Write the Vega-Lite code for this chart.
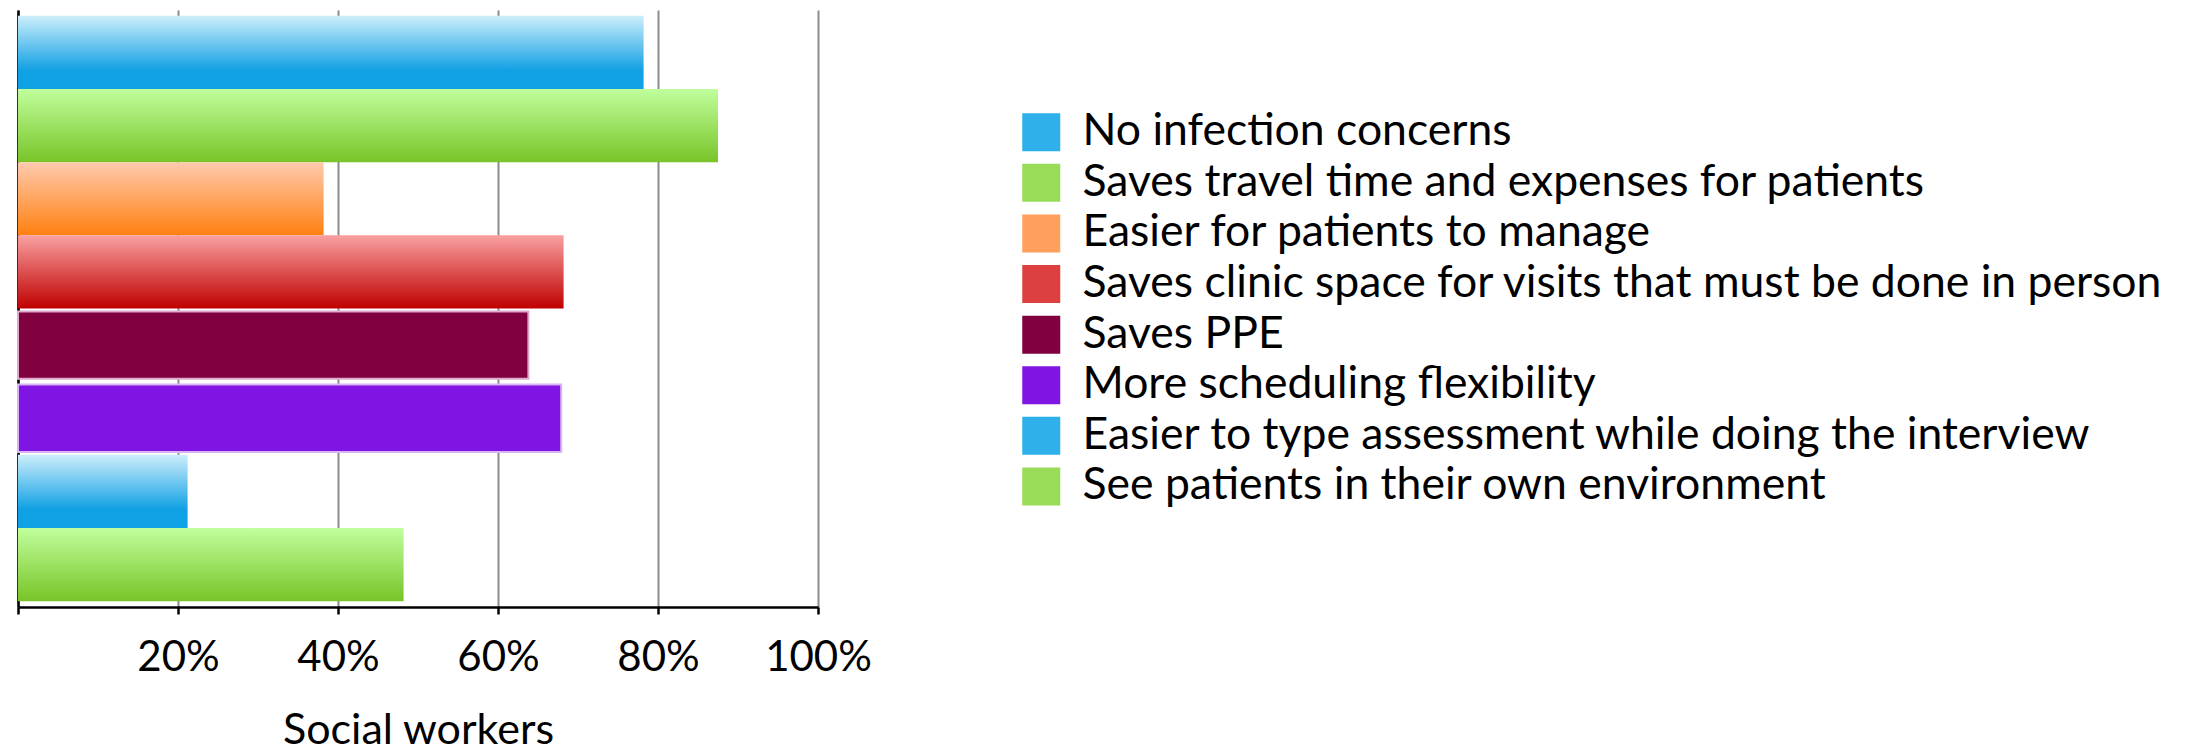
{
  "$schema": "https://vega.github.io/schema/vega-lite/v6.json",
  "width": 800,
  "height": 597,
  "autosize": "none",
  "padding": {"left": 18, "top": 10, "right": 1368, "bottom": 146},
  "background": "#ffffff",
  "config": {"view": {"stroke": null}, "font": "Lato"},
  "data": {
    "values": [
      {"reason": "No infection concerns", "share": 0.782},
      {"reason": "Saves travel time and expenses for patients", "share": 0.875},
      {"reason": "Easier for patients to manage", "share": 0.382},
      {"reason": "Saves clinic space for visits that must be done in person", "share": 0.682},
      {"reason": "Saves PPE", "share": 0.638},
      {"reason": "More scheduling flexibility", "share": 0.679},
      {"reason": "Easier to type assessment while doing the interview", "share": 0.212},
      {"reason": "See patients in their own environment", "share": 0.482}
    ]
  },
  "encoding": {
    "y": {
      "field": "reason",
      "type": "nominal",
      "sort": null,
      "scale": {
        "domain": [
          "No infection concerns",
          "Saves travel time and expenses for patients",
          "Easier for patients to manage",
          "Saves clinic space for visits that must be done in person",
          "Saves PPE",
          "More scheduling flexibility",
          "Easier to type assessment while doing the interview",
          "See patients in their own environment"
        ],
        "paddingInner": 0,
        "paddingOuter": 0.08
      },
      "axis": {"title": null, "labels": false, "ticks": false, "grid": false, "domainColor": "#000000", "domainWidth": 2.5}
    },
    "x": {
      "field": "share",
      "type": "quantitative",
      "scale": {"domain": [0, 1], "nice": false},
      "axis": {
        "values": [0, 0.2, 0.4, 0.6, 0.8, 1],
        "labelExpr": "datum.value == 0 ? '' : format(datum.value, '.0%')",
        "title": "Social workers",
        "grid": true,
        "gridColor": "#8c8c8c",
        "gridWidth": 2,
        "domainColor": "#000000",
        "domainWidth": 2.5,
        "tickColor": "#000000",
        "tickWidth": 2.5,
        "tickSize": 7,
        "labelFontSize": 42,
        "labelColor": "#000000",
        "labelPadding": 23,
        "labelFlush": false,
        "titleFontSize": 43,
        "titleFontWeight": "normal",
        "titleColor": "#000000",
        "titlePadding": 31
      }
    }
  },
  "layer": [
    {
      "transform": [{"filter": {"field": "reason", "oneOf": ["No infection concerns", "Easier to type assessment while doing the interview"]}}],
      "mark": {"type": "bar", "color": {"gradient": "linear", "x1": 0, "y1": 0, "x2": 0, "y2": 1, "stops": [{"offset": 0, "color": "#cdeefb"}, {"offset": 0.75, "color": "#10a0e4"}, {"offset": 1, "color": "#10a0e4"}]}}
    },
    {
      "transform": [{"filter": {"field": "reason", "oneOf": ["Saves travel time and expenses for patients", "See patients in their own environment"]}}],
      "mark": {"type": "bar", "color": {"gradient": "linear", "x1": 0, "y1": 0, "x2": 0, "y2": 1, "stops": [{"offset": 0, "color": "#c0ff9c"}, {"offset": 1, "color": "#78c428"}]}}
    },
    {
      "transform": [{"filter": {"field": "reason", "equal": "Easier for patients to manage"}}],
      "mark": {"type": "bar", "color": {"gradient": "linear", "x1": 0, "y1": 0, "x2": 0, "y2": 1, "stops": [{"offset": 0, "color": "#ffcaae"}, {"offset": 1, "color": "#ff8010"}]}}
    },
    {
      "transform": [{"filter": {"field": "reason", "equal": "Saves clinic space for visits that must be done in person"}}],
      "mark": {"type": "bar", "color": {"gradient": "linear", "x1": 0, "y1": 0, "x2": 0, "y2": 1, "stops": [{"offset": 0, "color": "#f9a0a0"}, {"offset": 1, "color": "#c00000"}]}}
    },
    {
      "transform": [{"filter": {"field": "reason", "equal": "Saves PPE"}}],
      "mark": {"type": "bar", "fill": "#800040", "stroke": "#e0a8cc", "strokeWidth": 2, "height": {"band": 0.92}}
    },
    {
      "transform": [{"filter": {"field": "reason", "equal": "More scheduling flexibility"}}],
      "mark": {"type": "bar", "fill": "#8014e2", "stroke": "#d8b4f4", "strokeWidth": 2, "height": {"band": 0.92}}
    },
    {
      "transform": [{"filter": "datum.share < 0"}],
      "mark": {"type": "point", "filled": true, "opacity": 1, "shape": "square"},
      "encoding": {
        "color": {
          "field": "reason",
          "type": "nominal",
          "scale": {
            "domain": [
              "No infection concerns",
              "Saves travel time and expenses for patients",
              "Easier for patients to manage",
              "Saves clinic space for visits that must be done in person",
              "Saves PPE",
              "More scheduling flexibility",
              "Easier to type assessment while doing the interview",
              "See patients in their own environment"
            ],
            "range": ["#2fb0ea", "#98dc58", "#ffa05c", "#dc4040", "#800040", "#8014e2", "#2fb0ea", "#98dc58"]
          },
          "legend": {
            "orient": "none",
            "legendX": 1001,
            "legendY": 100,
            "title": null,
            "symbolType": "square",
            "symbolSize": 1444,
            "symbolStrokeWidth": 0,
            "symbolOpacity": 1,
            "labelFontSize": 44.5,
            "labelColor": "#000000",
            "labelOffset": 19,
            "labelLimit": 2000,
            "rowPadding": 5.6,
            "padding": 0
          }
        }
      }
    }
  ]
}
